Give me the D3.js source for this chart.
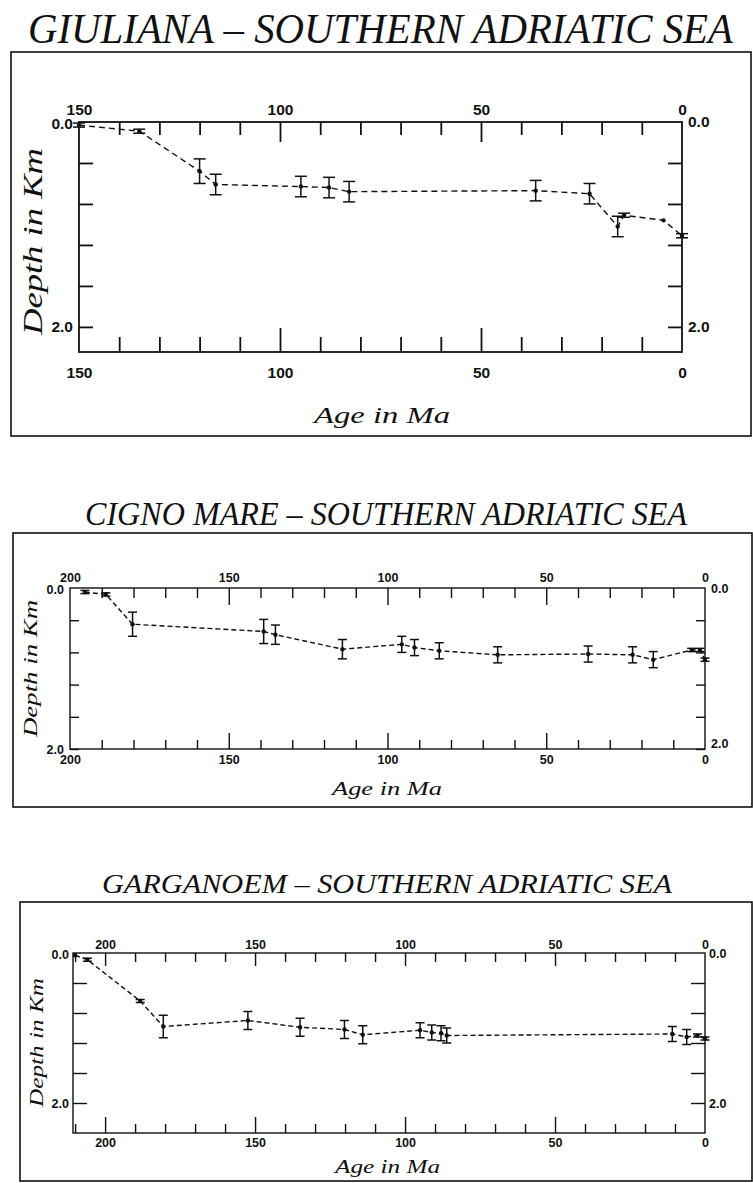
<!DOCTYPE html>
<html>
<head>
<meta charset="utf-8">
<script src="https://cdn.jsdelivr.net/npm/d3@7"></script>
<style>
  body { margin: 0; background: #fff; }
  svg text { fill: #111; }
  .tick-label { font-family: "Liberation Sans", Arial, sans-serif; font-weight: bold; }
  .title { font-family: "Liberation Serif", serif; font-style: italic; }
  .axis-title { font-family: "Liberation Serif", serif; font-style: italic; }
</style>
</head>
<body>
<svg id="chart"></svg>
<script>
const width = 753;
const height = 1183;

// tick labels
const depthLabels = [0, 2];
const giulianaAgeLabels = [150, 100, 50, 0];
const cignoAgeLabels = [200, 150, 100, 50, 0];
const garganoAgeLabels = [200, 150, 100, 50, 0];

// GIULIANA
const giulianaAge   = [150, 135, 120, 116, 94.8, 87.8, 82.8, 36.4, 23, 16, 14.4, 4.6, 0];
const giulianaDepth = [0.03, 0.09, 0.48, 0.61, 0.63, 0.64, 0.68, 0.67, 0.70, 1.02, 0.91, 0.96, 1.11];
const giulianaError = [0.02, 0.02, 0.12, 0.10, 0.10, 0.10, 0.10, 0.10, 0.10, 0.10, 0.02, 0, 0.02];

// CIGNO MARE
const cignoAge   = [195.3, 188.7, 180.3, 139, 135.3, 114.2, 95.5, 91.5, 83.7, 65.3, 36.8, 22.8, 16.3, 4.2, 1.6, 0];
const cignoDepth = [0.05, 0.08, 0.45, 0.54, 0.58, 0.76, 0.70, 0.74, 0.78, 0.83, 0.82, 0.83, 0.89, 0.77, 0.77, 0.89];
const cignoError = [0.02, 0.02, 0.15, 0.15, 0.12, 0.12, 0.10, 0.10, 0.10, 0.10, 0.10, 0.10, 0.10, 0.02, 0.02, 0.02];

// GARGANOEM
const garganoAge   = [210, 205.9, 188.3, 180.6, 152.4, 135, 120.2, 114.1, 95, 91.1, 88, 86.1, 10.9, 6.1, 2.5, 0];
const garganoDepth = [0.03, 0.09, 0.64, 0.98, 0.90, 0.99, 1.02, 1.09, 1.03, 1.06, 1.07, 1.10, 1.08, 1.12, 1.10, 1.14];
const garganoError = [0, 0.02, 0.02, 0.15, 0.12, 0.12, 0.12, 0.12, 0.10, 0.10, 0.10, 0.10, 0.10, 0.10, 0.02, 0.02];

const svg = d3.select("#chart").attr("width", width).attr("height", height);

const panels = [
  {
    title: "GIULIANA \u2013 SOUTHERN ADRIATIC SEA",
    titleX: [28, 733], titleY: 43, titleSize: 42,
    frame: [11, 52, 740, 384],
    plot: { left: 79, right: 682, top: 122, bottom: 352 },
    ageMax: 150, depthMax: 2.245,
    age: giulianaAge, depth: giulianaDepth, err: giulianaError,
    ageLabels: giulianaAgeLabels,
    minor: 13, major: 20, minorB: 15, majorB: 24, yTick: 14,
    labelSize: 15.5, padTop: 7, padBottom: 15, padY: 6, cap: 6,
    ageTitle: { x: [314, 450], y: 423, size: 24 },
    depthTitle: { x: 42, y: [335, 148], size: 27 },
    stroke: 1.8, dash: "6,4"
  },
  {
    title: "CIGNO MARE \u2013 SOUTHERN ADRIATIC SEA",
    titleX: [85, 687], titleY: 525, titleSize: 33,
    frame: [13, 533, 739, 274],
    plot: { left: 70, right: 705, top: 588, bottom: 749 },
    ageMax: 200, depthMax: 2.0,
    age: cignoAge, depth: cignoDepth, err: cignoError,
    ageLabels: cignoAgeLabels,
    minor: 10, major: 17, minorB: 9, majorB: 16, yTick: 9,
    labelSize: 12.5, padTop: 6, padBottom: 6, padY: 6, cap: 4.5,
    ageTitle: { x: [332, 442], y: 795, size: 19 },
    depthTitle: { x: 37, y: [737, 600], size: 19 },
    stroke: 1.4, dash: "5,3"
  },
  {
    title: "GARGANOEM \u2013 SOUTHERN ADRIATIC SEA",
    titleX: [102, 672], titleY: 893, titleSize: 28,
    frame: [20, 902, 732, 279],
    plot: { left: 73, right: 705, top: 953, bottom: 1133 },
    ageMax: 210.7, depthMax: 2.4,
    age: garganoAge, depth: garganoDepth, err: garganoError,
    ageLabels: garganoAgeLabels,
    minor: 9, major: 13, minorB: 9, majorB: 16, yTick: 14,
    labelSize: 12.5, padTop: 4, padBottom: 5, padY: 4, cap: 4.5,
    ageTitle: { x: [335, 440], y: 1173, size: 18 },
    depthTitle: { x: 43, y: [1107, 978], size: 18 },
    stroke: 1.4, dash: "5,3"
  }
];

panels.forEach((p, pi) => {
  const g = svg.append("g");
  const { left, right, top, bottom } = p.plot;

  const x = d3.scaleLinear().domain([p.ageMax, 0]).range([left, right]);
  const y = d3.scaleLinear().domain([0, p.depthMax]).range([top, bottom]);

  // title
  g.append("text")
    .attr("class", "title")
    .attr("x", p.titleX[0])
    .attr("y", p.titleY)
    .attr("font-size", p.titleSize)
    .attr("textLength", p.titleX[1] - p.titleX[0])
    .attr("lengthAdjust", "spacingAndGlyphs")
    .text(p.title);

  // outer frame
  g.append("rect")
    .attr("x", p.frame[0]).attr("y", p.frame[1])
    .attr("width", p.frame[2]).attr("height", p.frame[3])
    .attr("fill", "none").attr("stroke", "#111").attr("stroke-width", 1.6);

  // plot box
  g.append("rect")
    .attr("x", left).attr("y", top)
    .attr("width", right - left).attr("height", bottom - top)
    .attr("fill", "none").attr("stroke", "#111").attr("stroke-width", p.stroke);

  const minorTicks = d3.range(0, p.ageMax, 10).filter(v => v % 50 !== 0);
  const majorTicks = d3.range(0, p.ageMax + 0.01, 50);

  const style = sel => {
    sel.select(".domain").remove();
    sel.selectAll("line").attr("stroke", "#111").attr("stroke-width", p.stroke);
    sel.selectAll("text")
      .attr("class", "tick-label")
      .attr("font-size", p.labelSize)
      .attr("fill", "#111");
  };
  const dropEnds = sel => sel.selectAll(".tick")
    .filter(d => d === 0 || d === p.ageMax).select("line").remove();

  // top axis
  g.append("g").attr("transform", `translate(0,${top})`)
    .call(d3.axisTop(x).tickValues(minorTicks).tickSize(-p.minor).tickFormat(""))
    .call(style);
  g.append("g").attr("transform", `translate(0,${top})`)
    .call(d3.axisTop(x).tickValues(majorTicks).tickSize(-p.major).tickPadding(p.padTop)
      .tickFormat(d => p.ageLabels.includes(d) ? d : ""))
    .call(style)
    .call(dropEnds);

  // bottom axis
  g.append("g").attr("transform", `translate(0,${bottom})`)
    .call(d3.axisBottom(x).tickValues(minorTicks).tickSize(-p.minorB).tickFormat(""))
    .call(style);
  g.append("g").attr("transform", `translate(0,${bottom})`)
    .call(d3.axisBottom(x).tickValues(majorTicks).tickSize(-p.majorB).tickPadding(p.padBottom)
      .tickFormat(d => p.ageLabels.includes(d) ? d : ""))
    .call(style)
    .call(dropEnds);

  // depth axes
  const depthTicks = d3.range(0, 2.01, 0.4);
  const fmt = d => depthLabels.some(v => Math.abs(v - d) < 1e-6) ? d3.format(".1f")(d) : "";
  const leftAxis = g.append("g").attr("transform", `translate(${left},0)`)
    .call(d3.axisLeft(y).tickValues(depthTicks).tickSize(-p.yTick).tickPadding(p.padY).tickFormat(fmt))
    .call(style)
    .call(sel => sel.selectAll(".tick").filter(d => d === 0).select("line").remove());
  const rightAxis = g.append("g").attr("transform", `translate(${right},0)`)
    .call(d3.axisRight(y).tickValues(depthTicks).tickSize(-p.yTick).tickPadding(p.padY).tickFormat(fmt))
    .call(style)
    .call(sel => sel.selectAll(".tick").filter(d => d === 0).select("line").remove());

  // left 0.0 label sits a touch low so it clears the first age label
  leftAxis.selectAll(".tick").filter(d => d === 0).select("text").attr("dy", "0.45em");

  // in the middle panel the 2.0 labels sit on the bottom axis, raised a little
  if (pi === 1) {
    rightAxis.selectAll(".tick").filter(d => Math.abs(d - 2) < 1e-6).select("text").attr("dy", "-0.15em");
  }

  // axis titles
  g.append("text")
    .attr("class", "axis-title")
    .attr("x", p.ageTitle.x[0]).attr("y", p.ageTitle.y)
    .attr("font-size", p.ageTitle.size)
    .attr("textLength", p.ageTitle.x[1] - p.ageTitle.x[0])
    .attr("lengthAdjust", "spacingAndGlyphs")
    .text("Age in Ma");

  g.append("text")
    .attr("class", "axis-title")
    .attr("transform", `translate(${p.depthTitle.x},${p.depthTitle.y[0]}) rotate(-90)`)
    .attr("font-size", p.depthTitle.size)
    .attr("textLength", p.depthTitle.y[0] - p.depthTitle.y[1])
    .attr("lengthAdjust", "spacingAndGlyphs")
    .text("Depth in Km");

  // data
  const data = p.age.map((a, i) => ({ age: a, depth: p.depth[i], err: p.err[i] }));

  const line = d3.line().x(d => x(d.age)).y(d => y(d.depth));
  g.append("path")
    .datum(data)
    .attr("d", line)
    .attr("fill", "none")
    .attr("stroke", "#111")
    .attr("stroke-width", 1.4)
    .attr("stroke-dasharray", p.dash);

  const bars = g.selectAll(".err").data(data.filter(d => d.err > 0)).enter().append("g");
  bars.append("line")
    .attr("x1", d => x(d.age)).attr("x2", d => x(d.age))
    .attr("y1", d => y(d.depth - d.err)).attr("y2", d => y(d.depth + d.err))
    .attr("stroke", "#111").attr("stroke-width", 1.5);
  [-1, 1].forEach(s => {
    bars.append("line")
      .attr("x1", d => x(d.age) - p.cap).attr("x2", d => x(d.age) + p.cap)
      .attr("y1", d => y(d.depth + s * d.err)).attr("y2", d => y(d.depth + s * d.err))
      .attr("stroke", "#111").attr("stroke-width", 1.5);
  });

  g.selectAll(".pt").data(data).enter().append("circle")
    .attr("cx", d => x(d.age))
    .attr("cy", d => y(d.depth))
    .attr("r", 2.2)
    .attr("fill", "#111");
});
</script>
</body>
</html>
